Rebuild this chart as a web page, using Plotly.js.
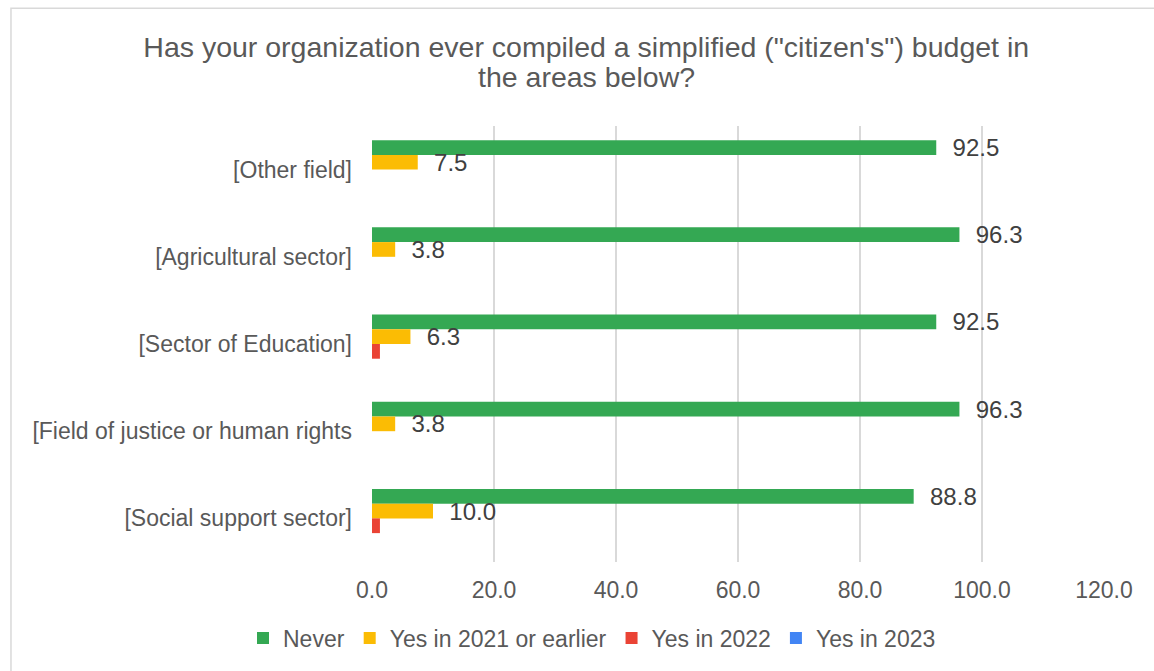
<!DOCTYPE html>
<html>
<head>
<meta charset="utf-8">
<script src="https://cdn.plot.ly/plotly-3.0.1.min.js"></script>
<style>html,body{margin:0;padding:0;background:#fff;}#chart{width:1154px;height:671px;}</style>
</head>
<body>
<div id="chart"></div>
<script>
const categories = ["[Other field]", "[Agricultural sector]", "[Sector of Education]", "[Field of justice or human rights", "[Social support sector]"];
const never = [92.5, 96.3, 92.5, 96.3, 88.8];
const yes2021 = [7.5, 3.8, 6.3, 3.8, 10.0];
const yes2022 = [0, 0, 1.3, 0, 1.3];
const yes2023 = [0, 0, 0, 0, 0];
const seriesNames = ["Never", "Yes in 2021 or earlier", "Yes in 2022", "Yes in 2023"];
const colors = ["#34A853", "#FBBC04", "#EA4335", "#4285F4"];
const titleLine1 = "Has your organization ever compiled a simplified (\"citizen's\") budget in";
const titleLine2 = "the areas below?";

const pad = "\u00a0\u00a0";
function mk(vals, i, showText) {
  return {
    type: "bar", orientation: "h",
    x: vals, y: categories, name: seriesNames[i],
    marker: {color: colors[i]},
    texttemplate: showText ? pad + "%{x:.1f}" : "",
    textposition: showText ? "outside" : "none",
    constraintext: "none",
    cliponaxis: false,
    textfont: {family: "Liberation Sans, Arial, sans-serif", size: 24, color: "#404040"},
    hoverinfo: "x+name"
  };
}
const data = [mk(never, 0, true), mk(yes2021, 1, true), mk(yes2022, 2, false), mk(yes2023, 3, false)];

const layout = {
  width: 1154, height: 671,
  margin: {l: 372, r: 50, t: 126, b: 108},
  paper_bgcolor: "#ffffff", plot_bgcolor: "#ffffff",
  font: {family: "Liberation Sans, Arial, sans-serif", color: "#595959", size: 23},
  title: {text: titleLine1, x: 0.508, xanchor: "center", y: 1 - 47/671, yanchor: "middle",
          font: {size: 28.5, color: "#595959"}},
  annotations: [{text: titleLine2, xref: "paper", yref: "paper", x: (586 - 372) / 732, xanchor: "center",
                 y: 1 + (126 - 77) / 437, yanchor: "middle", showarrow: false,
                 font: {size: 28.5, color: "#595959"}}],
  barmode: "group", bargap: 0.325, bargroupgap: 0,
  xaxis: {range: [0, 120], dtick: 20, tickformat: ".1f", showgrid: true, gridcolor: "#d9d9d9", gridwidth: 1.5,
          zeroline: false, showline: false, ticks: "", ticklabelstandoff: 12,
          tickfont: {size: 23, color: "#595959"}, fixedrange: true},
  yaxis: {autorange: "reversed", showgrid: false, zeroline: false, showline: false, ticks: "",
          ticklabelstandoff: 19, tickfont: {size: 23, color: "#595959"}, fixedrange: true},
  legend: {orientation: "h", x: (592 - 372) / 732, xanchor: "center", y: -0.172, yanchor: "middle",
           font: {size: 23, color: "#595959"}, itemwidth: 30, traceorder: "normal", itemclick: false},
  shapes: [{type: "rect", xref: "paper", yref: "paper", x0: -0.4932, x1: 1.07, y0: -0.26, y1: 1.27,
            line: {color: "#d9d9d9", width: 1.5}, fillcolor: "rgba(0,0,0,0)", layer: "below"}],
  showlegend: true
};
Plotly.newPlot("chart", data, layout, {displayModeBar: false, staticPlot: true});
</script>
</body>
</html>
